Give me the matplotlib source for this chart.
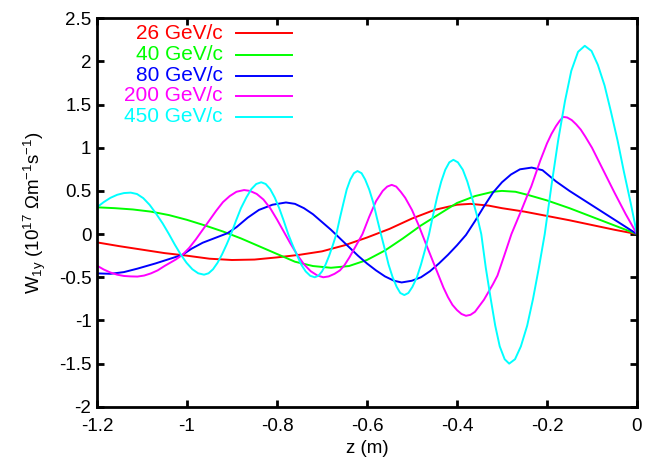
import matplotlib
matplotlib.use("Agg")
import matplotlib.pyplot as plt
from matplotlib.ticker import FormatStrFormatter

plt.rcParams["font.family"] = ["Liberation Sans", "DejaVu Sans"]
plt.rcParams["mathtext.fontset"] = "custom"
plt.rcParams["mathtext.rm"] = "Liberation Sans"
plt.rcParams["mathtext.default"] = "regular"

labels = ["26 GeV/c", "40 GeV/c", "80 GeV/c", "200 GeV/c", "450 GeV/c"]
colors = ["#ff0000", "#00ff00", "#0000ff", "#ff00ff", "#00ffff"]

# 26 GeV/c
z26 = [-1.2, -1.15, -1.1, -1.05, -1.0, -0.95, -0.9, -0.85, -0.8, -0.75, -0.7,
       -0.65, -0.6, -0.55, -0.5, -0.45, -0.4, -0.37, -0.33, -0.3, -0.25, -0.2,
       -0.15, -0.1, -0.05, 0.0]
w26 = [-0.096, -0.14, -0.18, -0.22, -0.25, -0.285, -0.30, -0.295, -0.27, -0.24,
       -0.20, -0.13, -0.04, 0.06, 0.18, 0.28, 0.34, 0.35, 0.33, 0.30, 0.26, 0.21,
       0.16, 0.105, 0.05, 0.0]

# 40 GeV/c
z40 = [-1.2, -1.16, -1.12, -1.08, -1.04, -1.0, -0.96, -0.92, -0.88, -0.84, -0.8,
       -0.76, -0.72, -0.68, -0.64, -0.6, -0.56, -0.52, -0.48, -0.44, -0.4, -0.36,
       -0.32, -0.3, -0.27, -0.24, -0.2, -0.15, -0.1, -0.05, 0.0]
w40 = [0.31, 0.30, 0.285, 0.26, 0.22, 0.165, 0.10, 0.03, -0.05, -0.14, -0.23,
       -0.32, -0.37, -0.39, -0.37, -0.30, -0.19, -0.05, 0.10, 0.23, 0.36, 0.44,
       0.49, 0.50, 0.49, 0.45, 0.39, 0.30, 0.20, 0.10, 0.0]

# 80 GeV/c
z80 = [-1.2, -1.17, -1.14, -1.11, -1.07, -1.04, -1.01, -0.99, -0.965, -0.94,
       -0.91, -0.89, -0.865, -0.84, -0.81, -0.78, -0.76, -0.74, -0.72, -0.7,
       -0.68, -0.66, -0.64, -0.62, -0.6, -0.58, -0.56, -0.54, -0.523, -0.5,
       -0.48, -0.46, -0.44, -0.42, -0.4, -0.38, -0.36, -0.34, -0.32, -0.3,
       -0.28, -0.26, -0.234, -0.21, -0.18, -0.15, -0.12, -0.09, -0.06, -0.03, 0.0]
w80 = [-0.455, -0.46, -0.44, -0.40, -0.34, -0.29, -0.24, -0.17, -0.10, -0.05,
       0.01, 0.08, 0.19, 0.28, 0.34, 0.366, 0.35, 0.30, 0.23, 0.14,
       0.05, -0.05, -0.15, -0.25, -0.34, -0.42, -0.49, -0.54, -0.56, -0.54,
       -0.50, -0.43, -0.34, -0.24, -0.13, -0.01, 0.15, 0.32, 0.48, 0.60,
       0.69, 0.75, 0.77, 0.74, 0.61, 0.50, 0.40, 0.30, 0.20, 0.10, 0.0]

# 200 GeV/c
z200 = [-1.2, -1.185, -1.17, -1.155, -1.14, -1.125, -1.11, -1.095, -1.08,
        -1.065, -1.05, -1.04, -1.025, -1.01, -0.995, -0.98, -0.965, -0.95,
        -0.935, -0.92, -0.905, -0.89, -0.873, -0.86, -0.845, -0.83, -0.815,
        -0.8, -0.785, -0.77, -0.755, -0.74, -0.725, -0.71, -0.697, -0.685,
        -0.672, -0.66, -0.65, -0.639, -0.625, -0.61, -0.595, -0.58, -0.565,
        -0.555, -0.545, -0.535, -0.525, -0.515, -0.5, -0.485, -0.47, -0.46,
        -0.45, -0.44, -0.43, -0.42, -0.41, -0.4, -0.39, -0.38, -0.37, -0.36,
        -0.35, -0.34, -0.33, -0.32, -0.31, -0.295, -0.279, -0.267, -0.255,
        -0.245, -0.235, -0.225, -0.215, -0.2, -0.19, -0.18, -0.172, -0.164,
        -0.155, -0.145, -0.135, -0.125, -0.115, -0.1, -0.075, -0.05, -0.025, 0.0]
w200 = [-0.365, -0.41, -0.445, -0.47, -0.485, -0.49, -0.492, -0.48, -0.455,
        -0.42, -0.37, -0.34, -0.295, -0.24, -0.16, -0.06, 0.05, 0.16,
        0.27, 0.37, 0.44, 0.49, 0.51, 0.50, 0.465, 0.40, 0.30,
        0.17, 0.03, -0.11, -0.24, -0.35, -0.43, -0.48, -0.50, -0.49,
        -0.46, -0.42, -0.36, -0.27, -0.14, 0.0, 0.2, 0.38, 0.5,
        0.55, 0.57, 0.55, 0.49, 0.42, 0.28, 0.10, -0.10, -0.23,
        -0.36, -0.49, -0.62, -0.73, -0.82, -0.88, -0.925, -0.946, -0.935, -0.90,
        -0.83, -0.76, -0.67, -0.58, -0.48, -0.25, 0.0, 0.15, 0.30,
        0.43, 0.55, 0.70, 0.85, 1.05, 1.16, 1.25, 1.31, 1.357,
        1.35, 1.32, 1.27, 1.21, 1.13, 1.0, 0.74, 0.48, 0.23, 0.0]

# 450 GeV/c
z450 = [-1.2, -1.185, -1.17, -1.155, -1.14, -1.125,
        -1.111, -1.097, -1.083, -1.069, -1.054, -1.04,
        -1.027, -1.014, -1.001, -0.988, -0.975, -0.962,
        -0.952, -0.942, -0.932, -0.922, -0.912, -0.902,
        -0.891, -0.88, -0.868, -0.857, -0.846, -0.835,
        -0.825, -0.815, -0.805, -0.795, -0.785, -0.775,
        -0.765, -0.755, -0.746, -0.736, -0.726, -0.716,
        -0.708, -0.7, -0.692, -0.684, -0.676, -0.668,
        -0.66, -0.652, -0.645, -0.637, -0.629, -0.621,
        -0.612, -0.604, -0.595, -0.586, -0.578, -0.569,
        -0.56, -0.552, -0.543, -0.534, -0.526, -0.517,
        -0.508, -0.499, -0.489, -0.48, -0.471, -0.462,
        -0.453, -0.444, -0.435, -0.426, -0.417, -0.408,
        -0.398, -0.387, -0.377, -0.367, -0.356, -0.346,
        -0.336, -0.325, -0.315, -0.305, -0.294, -0.284,
        -0.271, -0.258, -0.244, -0.231, -0.218, -0.205,
        -0.19, -0.175, -0.16, -0.146, -0.131, -0.116,
        -0.101, -0.087, -0.072, -0.058, -0.043, -0.029, -0.014, 0.0]
w450 = [0.31, 0.37, 0.42, 0.455, 0.475, 0.48,
        0.464, 0.416, 0.339, 0.24, 0.124, 0.0,
        -0.122, -0.235, -0.332, -0.407, -0.454, -0.47,
        -0.454, -0.407, -0.332, -0.235, -0.122, 0.0,
        0.155, 0.30, 0.424, 0.52, 0.58, 0.60,
        0.58, 0.52, 0.424, 0.30, 0.155, 0.0,
        -0.13, -0.25, -0.354, -0.433, -0.483, -0.50,
        -0.483, -0.433, -0.354, -0.25, -0.13, 0.0,
        0.189, 0.365, 0.516, 0.632, 0.705, 0.73,
        0.705, 0.632, 0.516, 0.365, 0.189, 0.0,
        -0.183, -0.353, -0.499, -0.611, -0.682, -0.706,
        -0.682, -0.611, -0.499, -0.353, -0.183, 0.0,
        0.223, 0.43, 0.608, 0.745, 0.831, 0.86,
        0.831, 0.745, 0.608, 0.43, 0.223, 0.0,
        -0.389, -0.75, -1.06, -1.30, -1.449, -1.50,
        -1.449, -1.30, -1.06, -0.75, -0.389, 0.0,
        0.564, 1.09, 1.54, 1.89, 2.11, 2.18,
        2.12, 1.96, 1.72, 1.42, 1.08, 0.72, 0.36, 0.0]

series = [(z26, w26), (z40, w40), (z80, w80), (z200, w200), (z450, w450)]

fig = plt.figure(figsize=(6.55, 4.66), dpi=100)
ax = fig.add_axes([0.148, 0.127, 0.8245, 0.834])

for (z, w), c in zip(series, colors):
    ax.plot(z, w, color=c, linewidth=1.4)

# gnuplot-style key: right-aligned labels, sample line on the right
rows = [0.961, 0.906, 0.852, 0.800, 0.746]
for lab, c, ry in zip(labels, colors, rows):
    ax.text(0.233, ry, lab, color=c, fontsize=15, ha="right", va="center",
            transform=ax.transAxes)
    ax.plot([0.257, 0.361], [ry, ry], color=c, linewidth=1.4,
            transform=ax.transAxes)

ax.set_xlim(-1.2, 0)
ax.set_ylim(-2, 2.5)
ax.set_xticks([-1.2, -1.0, -0.8, -0.6, -0.4, -0.2, 0.0])
ax.set_yticks([-2, -1.5, -1, -0.5, 0, 0.5, 1, 1.5, 2, 2.5])
ax.xaxis.set_major_formatter(FormatStrFormatter("%g"))
ax.yaxis.set_major_formatter(FormatStrFormatter("%g"))
ax.tick_params(direction="in", length=5, width=2, labelsize=13.5,
               top=True, right=True)
ax.tick_params(axis="x", pad=8)
ax.tick_params(axis="y", pad=4)
for spine in ax.spines.values():
    spine.set_linewidth(2)

ax.set_xlabel("z (m)", fontsize=13.5, labelpad=4)
ax.set_ylabel(r"W$_{1y}$ (10$^{17}$ Ωm$^{-1}$s$^{-1}$)", fontsize=13.5, labelpad=8)

fig.savefig("out.png", dpi=100)
